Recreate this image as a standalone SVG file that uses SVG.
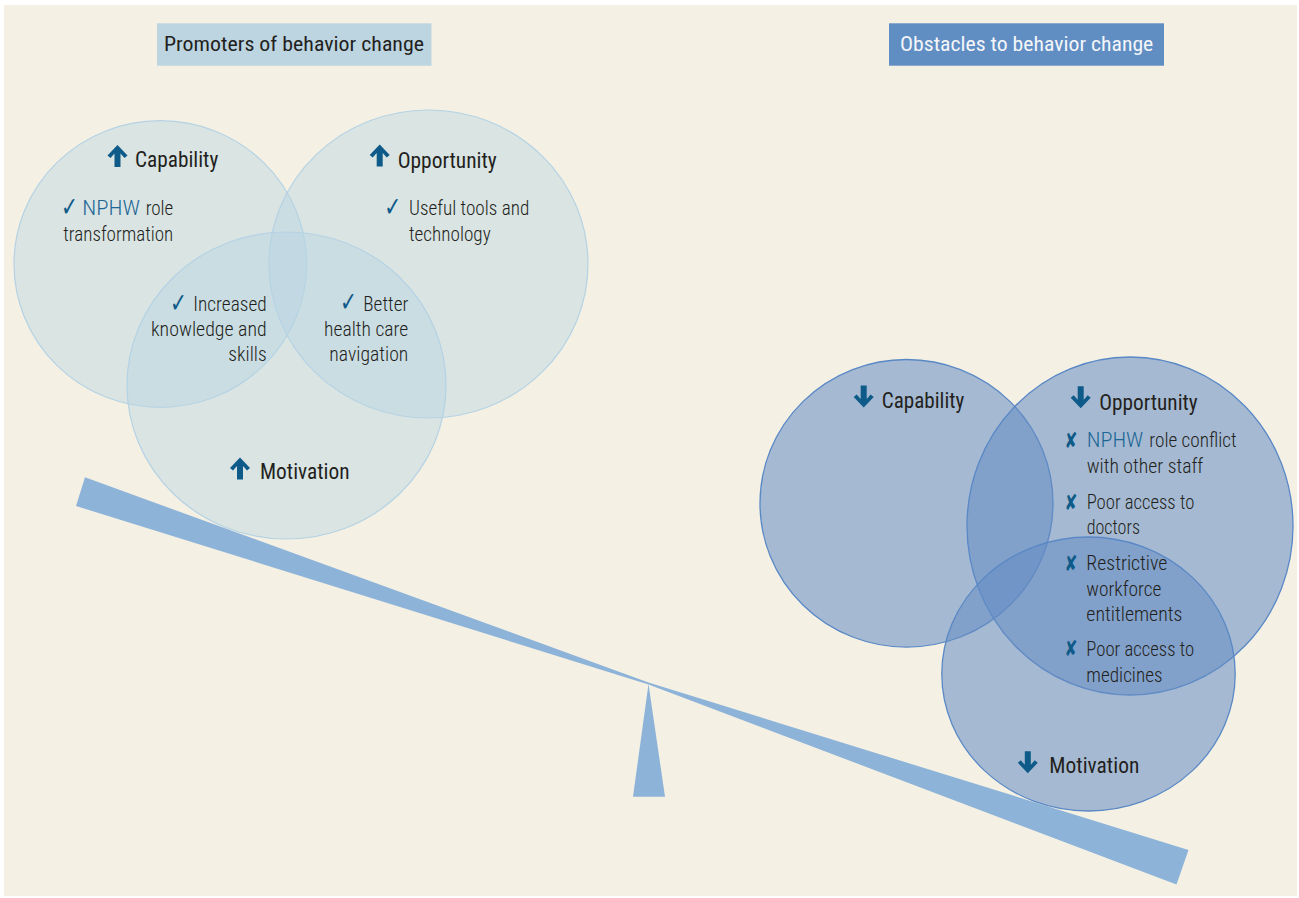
<svg xmlns="http://www.w3.org/2000/svg" xmlns:xlink="http://www.w3.org/1999/xlink" width="1299" height="898" viewBox="0 0 1299 898">
<style>
.t{font-family:"Roboto Condensed","Liberation Sans Narrow",Roboto,"Liberation Sans",sans-serif;font-size:20.5px;font-weight:300;fill:#231f20}
.lbl{font-size:21.5px;font-weight:400}
.hd{font-weight:400}
.blue{fill:#1d6796}
.ico{font-family:"DejaVu Sans",sans-serif;fill:#0e5a88}
.chk{font-size:27px}
.x{font-size:22px;font-weight:bold}
.pc{fill:#b8d4e2;fill-opacity:0.45;stroke:#b5d2e4;stroke-width:1.2}
.oc{fill:#648cc3;fill-opacity:0.55;stroke:#5a88c6;stroke-width:1.3}
.beam{fill:#8db3d9}
.arr{fill:#0e5a88}
</style>
<defs>
<path id="up" d="M0,0 L10,10.5 L7,13 L3,8.5 L3,22 L-3,22 L-3,8.5 L-7,13 L-10,10.5 Z"/>
</defs>
<rect x="0" y="0" width="1299" height="898" fill="#ffffff"/>
<rect x="4" y="5" width="1293" height="891" fill="#f4f1e4"/>

<g id="promoters-header">
<rect x="157" y="23.3" width="274.5" height="42.4" fill="#bdd5e1"/>
<text class="t hd" x="164" y="51" textLength="260" lengthAdjust="spacingAndGlyphs">Promoters of behavior change</text>
</g>
<g id="obstacles-header">
<rect x="889" y="23.3" width="275" height="42.4" fill="#608dc2"/>
<text class="t hd" x="900" y="50.7" textLength="253.3" lengthAdjust="spacingAndGlyphs" style="fill:#f4f6fa">Obstacles to behavior change</text>
</g>

<g id="promoter-circles">
<ellipse class="pc" cx="160.3" cy="264" rx="146.3" ry="143.3"/>
<ellipse class="pc" cx="428.5" cy="264" rx="159.5" ry="154"/>
<ellipse class="pc" cx="286.5" cy="385.5" rx="159.5" ry="153.5"/>
</g>

<g id="obstacle-circles">
<ellipse class="oc" cx="906.5" cy="503.3" rx="146.5" ry="143.8"/>
<ellipse class="oc" cx="1130" cy="526" rx="163" ry="169"/>
<ellipse class="oc" cx="1088.5" cy="674" rx="146.7" ry="137"/>
</g>

<g id="connectors">
<polygon class="beam" points="85,477.3 648.5,682.5 1188.5,850 1176.5,884.5 648.5,684.5 76,506"/>
<polygon class="beam" points="648.5,684 665,796.7 633,796.7"/>
</g>

<g id="p-capability">
<use xlink:href="#up" class="arr" transform="translate(117.5,145)"/>
<text class="t lbl" x="135" y="166.7" textLength="83.3" lengthAdjust="spacingAndGlyphs">Capability</text>
<text class="ico chk" x="61" y="216" textLength="17" lengthAdjust="spacingAndGlyphs">✓</text>
<text class="t blue" x="82.3" y="215" textLength="57.7" lengthAdjust="spacingAndGlyphs">NPHW</text>
<text class="t" x="145.7" y="215" textLength="27.6" lengthAdjust="spacingAndGlyphs">role</text>
<text class="t" x="63.3" y="240.7" textLength="110" lengthAdjust="spacingAndGlyphs">transformation</text>
</g>

<g id="p-capability-motivation">
<text class="ico chk" x="170" y="311.7" textLength="17" lengthAdjust="spacingAndGlyphs">✓</text>
<text class="t" x="193.3" y="310.7" textLength="73.4" lengthAdjust="spacingAndGlyphs">Increased</text>
<text class="t" x="151" y="336" textLength="115.7" lengthAdjust="spacingAndGlyphs">knowledge and</text>
<text class="t" x="228.3" y="360.7" textLength="38.4" lengthAdjust="spacingAndGlyphs">skills</text>
</g>

<g id="p-opportunity">
<use xlink:href="#up" class="arr" transform="translate(379.7,144.5)"/>
<text class="t lbl" x="397.7" y="168" textLength="99" lengthAdjust="spacingAndGlyphs">Opportunity</text>
<text class="ico chk" x="384.3" y="216" textLength="17" lengthAdjust="spacingAndGlyphs">✓</text>
<text class="t" x="409" y="215" textLength="120.3" lengthAdjust="spacingAndGlyphs">Useful tools and</text>
<text class="t" x="409" y="240.7" textLength="81.7" lengthAdjust="spacingAndGlyphs">technology</text>
</g>

<g id="p-opportunity-motivation">
<text class="ico chk" x="340" y="311" textLength="17" lengthAdjust="spacingAndGlyphs">✓</text>
<text class="t" x="363.3" y="310.7" textLength="45" lengthAdjust="spacingAndGlyphs">Better</text>
<text class="t" x="324" y="336" textLength="84.3" lengthAdjust="spacingAndGlyphs">health care</text>
<text class="t" x="329.3" y="360.7" textLength="79" lengthAdjust="spacingAndGlyphs">navigation</text>
</g>

<g id="p-motivation">
<use xlink:href="#up" class="arr" transform="translate(240,457.5)"/>
<text class="t lbl" x="260" y="479" textLength="89.5" lengthAdjust="spacingAndGlyphs">Motivation</text>
</g>

<g id="o-capability">
<use xlink:href="#up" class="arr" transform="translate(863.7,407.5) rotate(180)"/>
<text class="t lbl" x="881.7" y="407.5" textLength="82.6" lengthAdjust="spacingAndGlyphs">Capability</text>
</g>

<g id="o-opportunity">
<use xlink:href="#up" class="arr" transform="translate(1080.7,408.3) rotate(180)"/>
<text class="t lbl" x="1099.3" y="409.5" textLength="98.4" lengthAdjust="spacingAndGlyphs">Opportunity</text>
<text class="ico x" x="1064.5" y="448" textLength="13" lengthAdjust="spacingAndGlyphs">✘</text>
<text class="t blue" x="1086.7" y="447.3" textLength="56.6" lengthAdjust="spacingAndGlyphs">NPHW</text>
<text class="t" x="1149.3" y="447.3" textLength="87.4" lengthAdjust="spacingAndGlyphs">role conflict</text>
<text class="t" x="1086.7" y="472.7" textLength="116.6" lengthAdjust="spacingAndGlyphs">with other staff</text>
<text class="ico x" x="1064.5" y="509.5" textLength="13" lengthAdjust="spacingAndGlyphs">✘</text>
<text class="t" x="1086.7" y="509.3" textLength="107.6" lengthAdjust="spacingAndGlyphs">Poor access to</text>
<text class="t" x="1086.7" y="534.3" textLength="53.3" lengthAdjust="spacingAndGlyphs">doctors</text>
</g>

<g id="o-opportunity-motivation">
<text class="ico x" x="1064.5" y="571" textLength="13" lengthAdjust="spacingAndGlyphs">✘</text>
<text class="t" x="1086.3" y="570" textLength="81.1" lengthAdjust="spacingAndGlyphs">Restrictive</text>
<text class="t" x="1086.3" y="596" textLength="75.1" lengthAdjust="spacingAndGlyphs">workforce</text>
<text class="t" x="1086.3" y="620.7" textLength="96.1" lengthAdjust="spacingAndGlyphs">entitlements</text>
<text class="ico x" x="1064.5" y="656" textLength="13" lengthAdjust="spacingAndGlyphs">✘</text>
<text class="t" x="1086.3" y="655.5" textLength="107.9" lengthAdjust="spacingAndGlyphs">Poor access to</text>
<text class="t" x="1086.3" y="681.7" textLength="76.2" lengthAdjust="spacingAndGlyphs">medicines</text>
</g>

<g id="o-motivation">
<use xlink:href="#up" class="arr" transform="translate(1027.8,773.3) rotate(180)"/>
<text class="t lbl" x="1049.3" y="773.3" textLength="90" lengthAdjust="spacingAndGlyphs">Motivation</text>
</g>
</svg>
